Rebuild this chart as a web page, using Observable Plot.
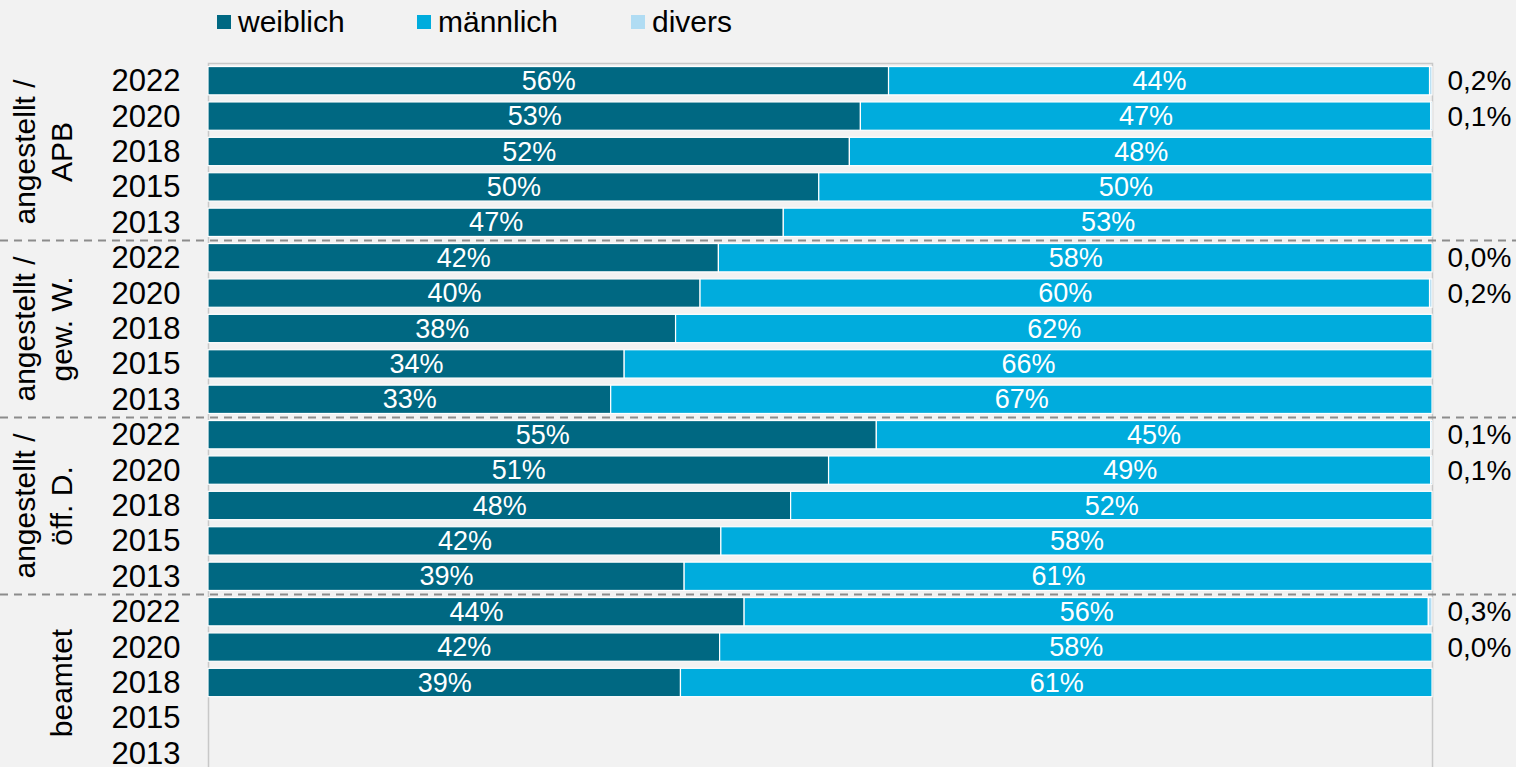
<!DOCTYPE html>
<html><head><meta charset="utf-8">
<script src="https://cdn.jsdelivr.net/npm/d3@7"></script>
<script src="https://cdn.jsdelivr.net/npm/@observablehq/plot@0.6"></script>
<style>
html,body{margin:0;padding:0;background:#f2f2f2;overflow:hidden;}
body{font-family:"Liberation Sans",Arial,sans-serif;}
#legend{position:relative;height:44px;width:1516px;}
.item{position:absolute;top:4px;height:36px;font-size:30px;color:#000;display:flex;align-items:center;white-space:nowrap;}
.sw{display:inline-block;width:14px;height:14px;margin-right:7px;}
</style></head><body>
<div id="legend"></div>
<div id="chart"></div>
<script>
// ---- data ----
const groups = ["angestellt /\nAPB", "angestellt /\ngew. W.", "angestellt /\nöff. D.", "beamtet"];
const years = ["2022", "2020", "2018", "2015", "2013"];
const series = ["weiblich", "männlich", "divers"];
const colors = ["#006882", "#00acdd", "#b0dcf3"];
// per group, years in order 2022, 2020, 2018, 2015, 2013 (null = no data)
const weiblich = [
  [55.6, 53.3, 52.4, 49.9, 47.0],
  [41.7, 40.2, 38.2, 34.0, 32.9],
  [54.6, 50.7, 47.6, 41.9, 38.9],
  [43.8, 41.8, 38.6, null, null]
];
const maennlich = [
  [44.2, 46.6, 47.6, 50.1, 53.0],
  [58.3, 59.6, 61.8, 66.0, 67.1],
  [45.3, 49.2, 52.4, 58.1, 61.1],
  [55.9, 58.2, 61.4, null, null]
];
const divers = [
  [0.2, 0.1, null, null, null],
  [0.0, 0.2, null, null, null],
  [0.1, 0.1, null, null, null],
  [0.3, 0.0, null, null, null]
];

// ---- build table ----
const rows = [];
const data = [];
const diversRows = [];
groups.forEach((g, gi) => {
  years.forEach((y, yi) => {
    const key = gi + "|" + y;
    rows.push(key);
    const vals = [weiblich[gi][yi], maennlich[gi][yi], divers[gi][yi]];
    series.forEach((s, si) => {
      if (vals[si] != null) data.push({row: key, series: s, value: vals[si]});
    });
    if (divers[gi][yi] != null) diversRows.push({row: key, value: divers[gi][yi]});
  });
});
const groupMid = groups.map((g, gi) => ({row: gi + "|" + years[2], label: g}));
const groupStarts = groups.slice(1).map((g, gi) => (gi + 1) + "|" + years[0]);

// ---- legend ----
const legendX = [217, 417, 631];
const leg = document.getElementById("legend");
series.forEach((s, i) => {
  const it = document.createElement("div");
  it.className = "item";
  it.style.left = legendX[i] + "px";
  it.innerHTML = `<span class="sw" style="background:${colors[i]}"></span>${s}`;
  leg.appendChild(it);
});

// ---- chart ----
const yTop = 19, yBottom = 727;
const step = (yBottom - yTop) / rows.length;
const fmtDiv = v => v.toFixed(1).replace(".", ",") + "%";

const chart = Plot.plot({
  width: 1516,
  height: 742,
  marginLeft: 208,
  marginRight: 84,
  marginTop: yTop,
  marginBottom: 15,
  style: {background: "#f2f2f2", fontFamily: "'Liberation Sans', Arial, sans-serif", color: "#000", overflow: "visible"},
  x: {domain: [0, 100], axis: null},
  y: {domain: rows, range: [yTop, yBottom], paddingInner: 0.2, paddingOuter: 0.1, align: 0.5, round: false, label: null},
  color: {domain: series, range: colors},
  marks: [
    Plot.frame({stroke: "#c8c8c8", strokeWidth: 1.5}),
    Plot.barX(data, Plot.stackX({y: "row", x: "value", fill: "series", stroke: "white", strokeWidth: 1.2})),
    Plot.text(data.filter(d => d.series !== "divers"), Plot.stackX({
      y: "row", x: "value", z: "series",
      text: d => Math.round(d.value) + "%",
      fill: "white", fontSize: 27
    })),
    Plot.text(diversRows, {y: "row", text: d => fmtDiv(d.value), frameAnchor: "right", dx: 15, textAnchor: "start", fontSize: 28, fill: "#000"}),
    Plot.axisY({tickSize: 0, tickPadding: 28, fontSize: 31, tickFormat: d => d.split("|")[1], label: null}),
    Plot.text(groupMid, {y: "row", text: "label", rotate: -90, frameAnchor: "left", dx: -137, textAnchor: "middle", lineAnchor: "bottom", lineHeight: 1.22, fontSize: 30, fill: "#000"}),
    Plot.ruleY(groupStarts, {y: d => d, dy: -step / 2, stroke: "#8c8c8c", strokeWidth: 2, strokeDasharray: "8,6", insetLeft: -208, insetRight: -84})
  ]
});
document.getElementById("chart").appendChild(chart);
</script>
</body></html>
